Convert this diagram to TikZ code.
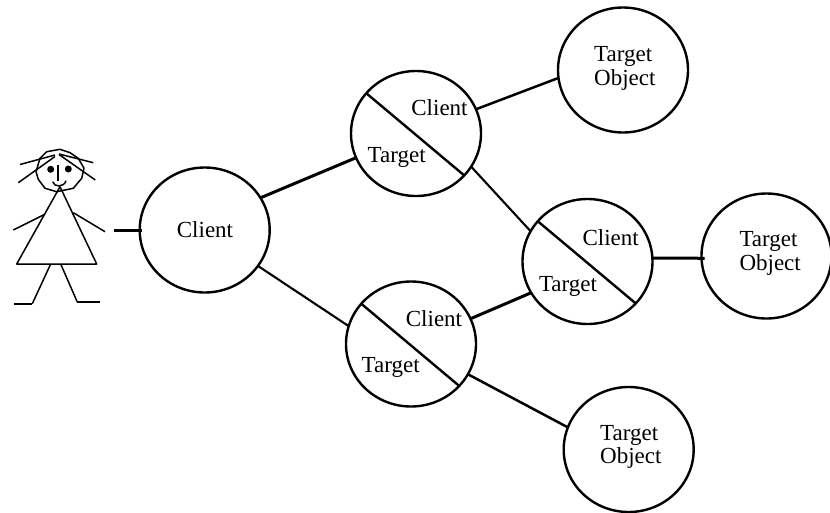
\documentclass[tikz,border=0pt]{standalone}
\usepackage{fontspec}
\setmainfont{Liberation Serif}
\usetikzlibrary{shapes.geometric}
\tikzset{
  x=1pt,y=-1pt,
  ball/.style={draw=black,line width=2.4pt,shape=ellipse,inner sep=0pt,outer sep=0pt,minimum width=130pt,minimum height=125pt},
  link/.style={draw=black,line width=2.5pt},
  heavy/.style={draw=black,line width=3pt},
  light/.style={draw=black,line width=2.1pt},
  split/.style={draw=black,line width=2.4pt},
  lbl/.style={anchor=base,inner sep=0pt,font=\fontsize{23}{23}\selectfont},
  lft/.style={anchor=base west,inner sep=0pt,font=\fontsize{23}{23}\selectfont},
  figure/.style={draw=black,line width=1.5pt,line join=round},
}
\begin{document}
\begin{tikzpicture}
\useasboundingbox (0,0) rectangle (830,512);
\clip (0,0) rectangle (830,512);
% circles
\node[ball] (c) at (204.7,230) {};
\node[ball] (tl) at (416,133.5) {};
\node[ball] (bl) at (411,344) {};
\node[ball] (md) at (587.5,261.5) {};
\node[ball] (t1) at (623,70) {};
\node[ball] (t2) at (766.5,256) {};
\node[ball] (t3) at (628.7,449.5) {};
% splits
\draw[split] (tl.141) -- (tl.-41);
\draw[split] (md.141) -- (md.-41);
\draw[split] (bl.141) -- (bl.-41);
% connectors
\coordinate (hand) at (114,230);
\draw[heavy] (hand) -- ([xshift=2pt]c.west);
\draw[heavy] (c.30) -- (tl.202);
\draw[light] (c.-34) -- (bl.164);
\draw[link] (tl.22) -- (t1.187);
\draw[light] (tl.-31) -- (md.152);
\draw[heavy] (bl.23) -- (md.209);
\draw[link] (bl.-28) -- (t3.160);
\draw[heavy] (md.3) -- ([xshift=3pt]t2.182);
% labels
\node[lbl] (l0) at (205,237.7) {Client};
\node[lbl] (l1) at (439.5,115.7) {Client};
\node[lbl] (l2) at (396.7,162.7) {Target};
\node[lbl] (l3) at (610.7,245) {Client};
\node[lbl] (l4) at (568,291.7) {Target};
\node[lbl] (l5) at (434,326) {Client};
\node[lbl] (l6) at (390.7,372.7) {Target};
\node[lft] (o1) at (594,61) {Target};
\node[lft] (o1b) at (594,85) {Object};
\node[lft] (o2) at (739.3,246.7) {Target};
\node[lft] (o2b) at (739.3,270) {Object};
\node[lft] (o3) at (600,440) {Target};
\node[lft] (o3b) at (600,463.7) {Object};
% stick figure
\draw[figure] (36,171.7) -- (38.3,179.3) -- (45,188.3) -- (56.7,191.7) -- (73.3,188.3) -- (81.7,178.3) -- (84,168.3) -- (78.3,158.3) -- (70,152.7) -- (60,149.3) -- (46.7,151.7) -- (40,158.3) -- cycle;
\fill (50.7,169.3) circle (3.5);
\fill (68.3,169) circle (3.5);
\draw[figure,line width=2pt] (58.3,165) -- (58.3,180.7);
\draw[figure] (52.7,181.7) .. controls (54,187.5) and (64,187.5) .. (66,180.7);
\draw[figure] (20,164.5) -- (55,155);
\draw[figure] (18.3,182.7) -- (55,156.5);
\draw[figure] (59,154) -- (93.3,162.7);
\draw[figure] (59,154.5) -- (95.3,180);
\draw[figure] (60,186.7) -- (16.7,264) -- (96.7,264) -- cycle;
\draw[figure] (44,214.7) -- (13.3,230);
\draw[figure] (73.3,212.7) -- (105,231.7);
\draw[figure] (50.7,264) -- (32.3,303.7);
\draw[figure] (60.7,264) -- (77.3,302);
\draw[figure,line width=2.2pt] (32.3,303.7) -- (14,303.7);
\draw[figure,line width=2.2pt] (77.3,302) -- (100,302);
\end{tikzpicture}
\end{document}
